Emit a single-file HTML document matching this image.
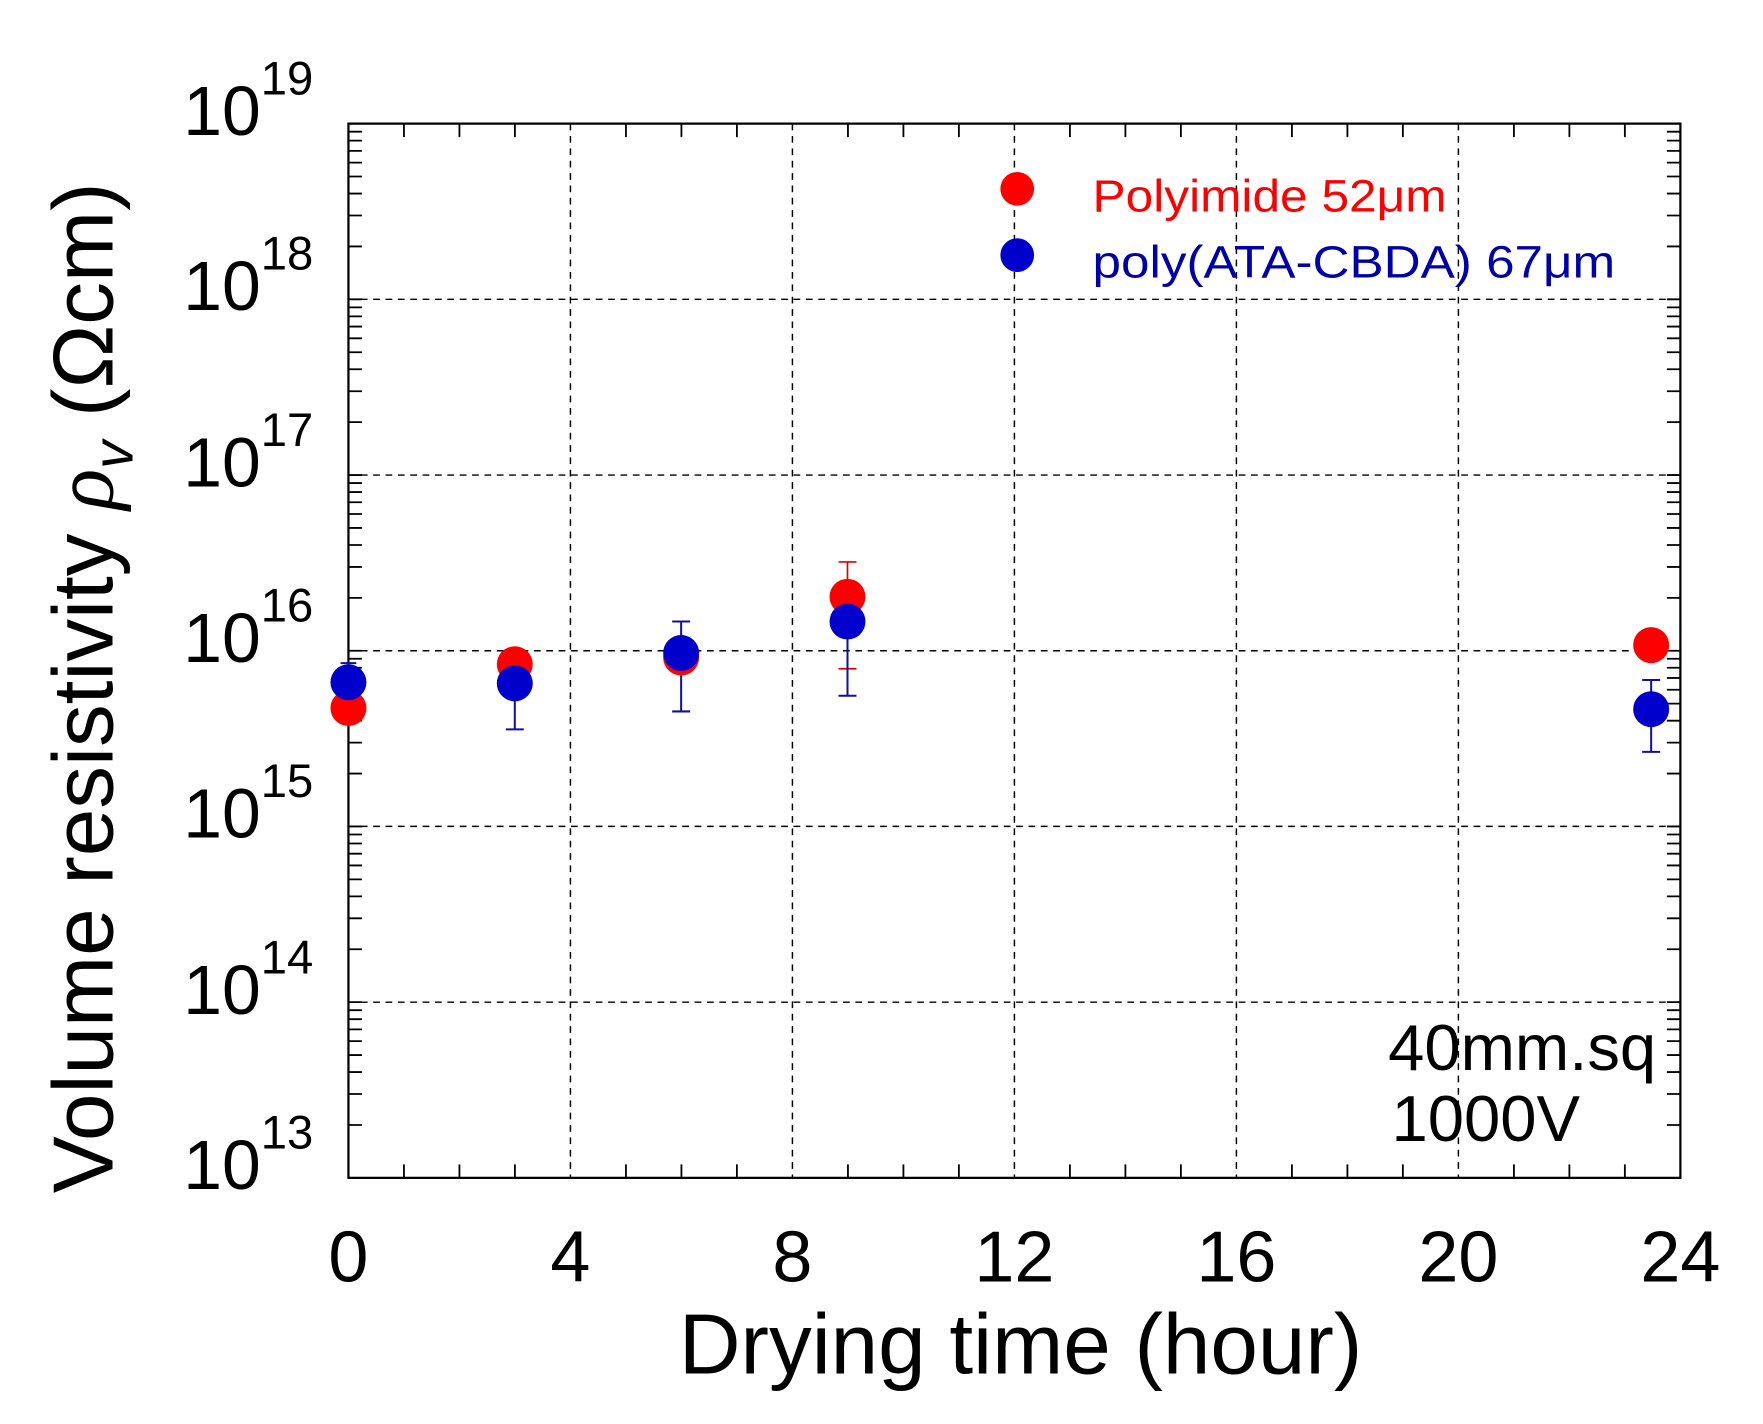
<!DOCTYPE html>
<html><head><meta charset="utf-8"><style>
html,body{margin:0;padding:0;background:#fff;}
svg{display:block;}
text{font-family:"Liberation Sans",Arial,sans-serif;}
</style></head><body>
<svg width="1763" height="1424" viewBox="0 0 1568.5 1267" preserveAspectRatio="none" xmlns="http://www.w3.org/2000/svg">
<rect width="1568.5" height="1267" fill="#fff"/>
<g stroke="#000" stroke-width="1.3" stroke-dasharray="6,5" fill="none">
<line x1="507.5" y1="110" x2="507.5" y2="1048"/>
<line x1="705" y1="110" x2="705" y2="1048"/>
<line x1="902.5" y1="110" x2="902.5" y2="1048"/>
<line x1="1100" y1="110" x2="1100" y2="1048"/>
<line x1="1297.5" y1="110" x2="1297.5" y2="1048"/>
<line x1="310" y1="266.3" x2="1495" y2="266.3"/>
<line x1="310" y1="422.7" x2="1495" y2="422.7"/>
<line x1="310" y1="579" x2="1495" y2="579"/>
<line x1="310" y1="735.3" x2="1495" y2="735.3"/>
<line x1="310" y1="891.7" x2="1495" y2="891.7"/>
</g>
<g stroke="#000" stroke-width="1.6" fill="none">
<path d="M359.4,110v12M408.75,110v12M458.1,110v12M556.9,110v12M606.25,110v12M655.6,110v12M754.4,110v12M803.75,110v12M853.1,110v12M951.9,110v12M1001.25,110v12M1050.6,110v12M1149.4,110v12M1198.75,110v12M1248.1,110v12M1346.9,110v12M1396.25,110v12M1445.6,110v12"/>
<path d="M359.4,1048v-12M408.75,1048v-12M458.1,1048v-12M556.9,1048v-12M606.25,1048v-12M655.6,1048v-12M754.4,1048v-12M803.75,1048v-12M853.1,1048v-12M951.9,1048v-12M1001.25,1048v-12M1050.6,1048v-12M1149.4,1048v-12M1198.75,1048v-12M1248.1,1048v-12M1346.9,1048v-12M1396.25,1048v-12M1445.6,1048v-12"/>
<path id="yt" d="M310,1000.94h12M310,973.41h12M310,953.88h12M310,938.73h12M310,926.35h12M310,915.88h12M310,906.82h12M310,898.82h12
M310,844.61h12M310,817.08h12M310,797.55h12M310,782.4h12M310,770.02h12M310,759.55h12M310,750.49h12M310,742.49h12
M310,688.27h12M310,660.74h12M310,641.21h12M310,626.06h12M310,613.68h12M310,603.21h12M310,594.15h12M310,586.15h12
M310,531.94h12M310,504.41h12M310,484.88h12M310,469.73h12M310,457.35h12M310,446.88h12M310,437.82h12M310,429.82h12
M310,375.61h12M310,348.08h12M310,328.55h12M310,313.4h12M310,301.02h12M310,290.55h12M310,281.49h12M310,273.49h12
M310,219.27h12M310,191.74h12M310,172.21h12M310,157.06h12M310,144.68h12M310,134.21h12M310,125.15h12M310,117.15h12
M310,891.67h12M310,735.33h12M310,579h12M310,422.67h12M310,266.33h12"/>
<use href="#yt" transform="translate(1805,0) scale(-1,1)"/>
</g>
<rect x="310" y="110" width="1185" height="938" fill="none" stroke="#000" stroke-width="2"/>
<g font-size="62" fill="#000">
<text x="163" y="120">10<tspan font-size="42" dy="-36">19</tspan></text>
<text x="163" y="276">10<tspan font-size="42" dy="-36">18</tspan></text>
<text x="163" y="433">10<tspan font-size="42" dy="-36">17</tspan></text>
<text x="163" y="589">10<tspan font-size="42" dy="-36">16</tspan></text>
<text x="163" y="745">10<tspan font-size="42" dy="-36">15</tspan></text>
<text x="163" y="902">10<tspan font-size="42" dy="-36">14</tspan></text>
<text x="163" y="1058">10<tspan font-size="42" dy="-36">13</tspan></text>
</g>
<g font-size="64" fill="#000" text-anchor="middle">
<text x="310" y="1140">0</text><text x="507.5" y="1140">4</text><text x="705" y="1140">8</text>
<text x="902.5" y="1140">12</text><text x="1100" y="1140">16</text><text x="1297.5" y="1140">20</text><text x="1495" y="1140">24</text>
</g>
<text x="908" y="1222" font-size="76" text-anchor="middle">Drying time (hour)</text>
<text transform="translate(100,612) rotate(-90)" font-size="76" text-anchor="middle">Volume resistivity <tspan font-family="Liberation Serif,serif" font-style="italic">ρ</tspan><tspan font-size="50" font-style="italic" dy="18">v</tspan><tspan dy="-18"> (Ωcm)</tspan></text>
<g stroke="#d00" stroke-width="1.5">
<line x1="754" y1="500" x2="754" y2="595"/><line x1="746" y1="500" x2="762" y2="500"/><line x1="746" y1="595" x2="762" y2="595"/>
</g>
<g stroke="#1010a0" stroke-width="1.8">
<line x1="458" y1="608" x2="458" y2="649"/><line x1="450" y1="649" x2="466" y2="649"/>
<line x1="606" y1="553" x2="606" y2="633"/><line x1="598" y1="553" x2="614" y2="553"/><line x1="598" y1="633" x2="614" y2="633"/>
<line x1="754" y1="553" x2="754" y2="619"/><line x1="746" y1="619" x2="762" y2="619"/>
<line x1="1469" y1="605" x2="1469" y2="669"/><line x1="1461" y1="605" x2="1477" y2="605"/><line x1="1461" y1="669" x2="1477" y2="669"/>
<line x1="310" y1="590" x2="310" y2="607"/><line x1="303" y1="590" x2="317" y2="590"/>
</g>
<g fill="#ff0000">
<circle cx="310" cy="630" r="16"/><circle cx="458" cy="591" r="16"/><circle cx="606" cy="585" r="16"/><circle cx="754" cy="531" r="16"/><circle cx="1469" cy="574" r="16"/>
</g>
<g fill="#0000cc">
<circle cx="310" cy="607" r="16"/><circle cx="458" cy="608" r="16"/><circle cx="606" cy="581" r="16"/><circle cx="754" cy="553" r="16"/><circle cx="1469" cy="631" r="16"/>
</g>
<circle cx="905" cy="168" r="15" fill="#ff0000"/>
<circle cx="905" cy="227" r="15" fill="#0000cc"/>
<text x="972" y="188" font-size="40" fill="#ff0000" textLength="315" lengthAdjust="spacingAndGlyphs">Polyimide 52μm</text>
<text x="972" y="247" font-size="40" fill="#0000aa" textLength="465" lengthAdjust="spacingAndGlyphs">poly(ATA-CBDA) 67μm</text>
<text x="1235" y="952" font-size="58">40mm.sq</text>
<text x="1238" y="1015" font-size="58">1000V</text>
</svg>
</body></html>
